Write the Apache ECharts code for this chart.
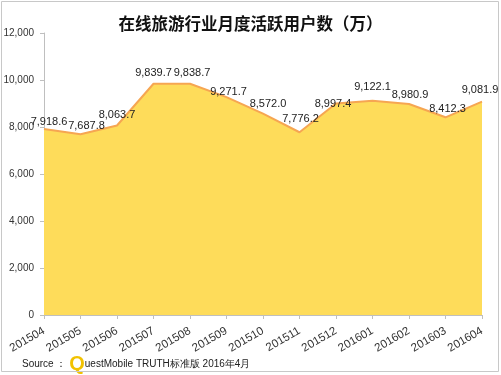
<!DOCTYPE html>
<html>
<head>
<meta charset="utf-8">
<script src="https://cdn.jsdelivr.net/npm/echarts@6/dist/echarts.min.js"></script>
<style>html,body{margin:0;padding:0;background:#fff}#c{width:501px;height:375px}</style>
</head>
<body>
<div id="c"></div>
<script>
var months = ['201504','201505','201506','201507','201508','201509','201510','201511','201512','201601','201602','201603','201604'];
var users = [7918.6, 7687.8, 8063.7, 9839.7, 9838.7, 9271.7, 8572.0, 7776.2, 8997.4, 9122.1, 8980.9, 8412.3, 9081.9];
var yTicks = [0, 2000, 4000, 6000, 8000, 10000, 12000];
var titleText = '在线旅游行业月度活跃用户数（万）';

var chart = echarts.init(document.getElementById('c'), null, {renderer: 'canvas'});
var fmt = function (v) {
  return Number(v).toLocaleString('en-US', {minimumFractionDigits: 1, maximumFractionDigits: 1});
};
// label placement tweaks (style only): [dx, height of label centre above point]
var labelShiftX = [5, 6, 0, 0, 2, 2, 5, 1, -3, 0, 1, 2, -2];
var labelRise   = [7, 8, 11, 11, 11, 5, 10, 13, 0, 14, 9, 8, 12];
var seriesData = users.map(function (v, i) {
  return {value: v, label: {offset: [labelShiftX[i], 6 - labelRise[i]]}};
});

chart.setOption({
  animation: false,
  backgroundColor: '#fff',
  title: {
    text: titleText,
    left: 'center',
    top: 10,
    textStyle: {fontSize: 16.5, fontWeight: 'bold', color: '#111', fontFamily: 'Noto Sans CJK SC'}
  },
  grid: {left: 44, right: 19, top: 33, bottom: 60},
  xAxis: {
    type: 'category',
    data: months,
    boundaryGap: false,
    axisLine: {lineStyle: {color: '#bfbfbf'}},
    axisTick: {show: true, alignWithLabel: true, length: 4, lineStyle: {color: '#bfbfbf'}},
    axisLabel: {rotate: 30, color: '#333', fontSize: 11.5, fontFamily: 'Liberation Sans', margin: 15, interval: 0}
  },
  yAxis: {
    type: 'value',
    min: 0, max: 12000, interval: 2000,
    axisLine: {show: true, lineStyle: {color: '#bfbfbf'}},
    axisTick: {show: true, length: 4, lineStyle: {color: '#bfbfbf'}},
    splitLine: {show: false},
    axisLabel: {
      color: '#333', fontSize: 10, fontFamily: 'Liberation Sans', margin: 10,
      formatter: function (v) { return Number(v).toLocaleString('en-US'); }
    }
  },
  series: [{
    type: 'line',
    data: seriesData,
    symbol: 'circle',
    symbolSize: 1,
    showSymbol: true,
    itemStyle: {color: 'rgba(0,0,0,0)'},
    lineStyle: {color: '#F6A652', width: 2},
    areaStyle: {color: '#FEDC5A', opacity: 1},
    label: {
      show: true, position: 'top', distance: 0,
      color: '#222', fontSize: 11, fontFamily: 'Liberation Sans',
      formatter: function (p) { return fmt(p.value); }
    }
  }],
  graphic: [
    {type: 'rect', shape: {x: 1.5, y: 1.5, width: 497, height: 370}, style: {fill: 'none', stroke: '#c8c8c8', lineWidth: 1}, z: 100},
    {type: 'text', left: 22, top: 354, style: {
      rich: {
        s: {fontSize: 10, fontFamily: 'Liberation Sans', fill: '#222'},
        q: {fontSize: 20, fontFamily: 'Liberation Sans', fill: '#F2C200', fontWeight: 'bold'},
        t: {fontSize: 10, fontFamily: 'Liberation Sans', fill: '#222'}
      },
      text: '{s|Source ： }{q|Q}{t|uestMobile TRUTH标准版 2016年4月}'
    }}
  ]
});
</script>
</body>
</html>
